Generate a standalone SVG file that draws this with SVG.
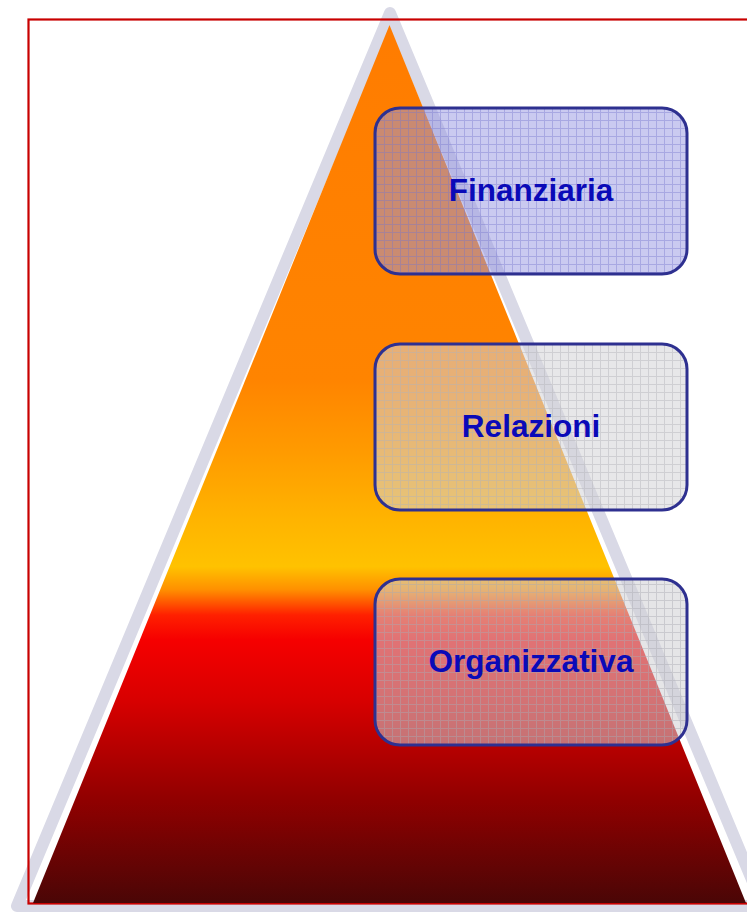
<svg xmlns="http://www.w3.org/2000/svg" width="747" height="912" viewBox="0 0 747 912">
  <defs>
    <linearGradient id="pyr" gradientUnits="userSpaceOnUse" x1="0" y1="25" x2="0" y2="903">
      <stop offset="0" stop-color="#ff7c00"/>
      <stop offset="0.404" stop-color="#ff8400"/>
      <stop offset="0.484" stop-color="#ff9a00"/>
      <stop offset="0.564" stop-color="#ffb400"/>
      <stop offset="0.617" stop-color="#ffc200"/>
      <stop offset="0.643" stop-color="#ff9000"/>
      <stop offset="0.672" stop-color="#ff2000"/>
      <stop offset="0.700" stop-color="#f60000"/>
      <stop offset="0.769" stop-color="#d80000"/>
      <stop offset="0.883" stop-color="#900000"/>
      <stop offset="1" stop-color="#4a0606"/>
    </linearGradient>
    <pattern id="gridBlue" patternUnits="userSpaceOnUse" width="8" height="8">
      <rect width="8" height="8" fill="#9696e2" opacity="0.5"/>
      <path d="M0 0.5H8M0.5 0V8" stroke="#7474cc" stroke-width="1" opacity="0.4"/>
    </pattern>
    <pattern id="gridGray" patternUnits="userSpaceOnUse" width="8" height="8">
      <rect width="8" height="8" fill="#d2d2d6" opacity="0.55"/>
      <path d="M0 0.5H8M0.5 0V8" stroke="#b0b0b8" stroke-width="1" opacity="0.45"/>
    </pattern>
    <pattern id="gridGray2" patternUnits="userSpaceOnUse" width="8" height="8">
      <rect width="8" height="8" fill="#cfcfd2" opacity="0.55"/>
      <path d="M0 0.5H8M0.5 0V8" stroke="#a8a8b0" stroke-width="1" opacity="0.45"/>
    </pattern>
  </defs>
  <style>
    .box { stroke: #2e3090; stroke-width: 3; }
    .lbl { font-family: "Liberation Sans", Arial, sans-serif; font-weight: bold; font-size: 31.5px; fill: #0a0ab8; text-anchor: middle; }
  </style>

  <g id="pyramid">
    <path d="M390 13 L17 906 L763 906 Z" fill="none" stroke="#d9d9e6" stroke-width="12" stroke-linejoin="round"/>
    <rect x="28.5" y="19.5" width="740" height="884" fill="none" stroke="#c80000" stroke-width="2.2"/>
    <path d="M389.5 25 L33 903 L746 903 Z" fill="url(#pyr)"/>
  </g>

  <g id="finanziaria">
    <rect class="box" x="375" y="108" width="312" height="166" rx="25" ry="25" fill="url(#gridBlue)"/>
    <text class="lbl" x="531" y="201">Finanziaria</text>
  </g>

  <g id="relazioni">
    <rect class="box" x="375" y="344" width="312" height="166" rx="25" ry="25" fill="url(#gridGray)"/>
    <text class="lbl" x="531" y="437">Relazioni</text>
  </g>

  <g id="organizzativa">
    <rect class="box" x="375" y="579" width="312" height="166" rx="25" ry="25" fill="url(#gridGray2)"/>
    <text class="lbl" x="531" y="672">Organizzativa</text>
  </g>

  <g id="connectors"/>
</svg>
